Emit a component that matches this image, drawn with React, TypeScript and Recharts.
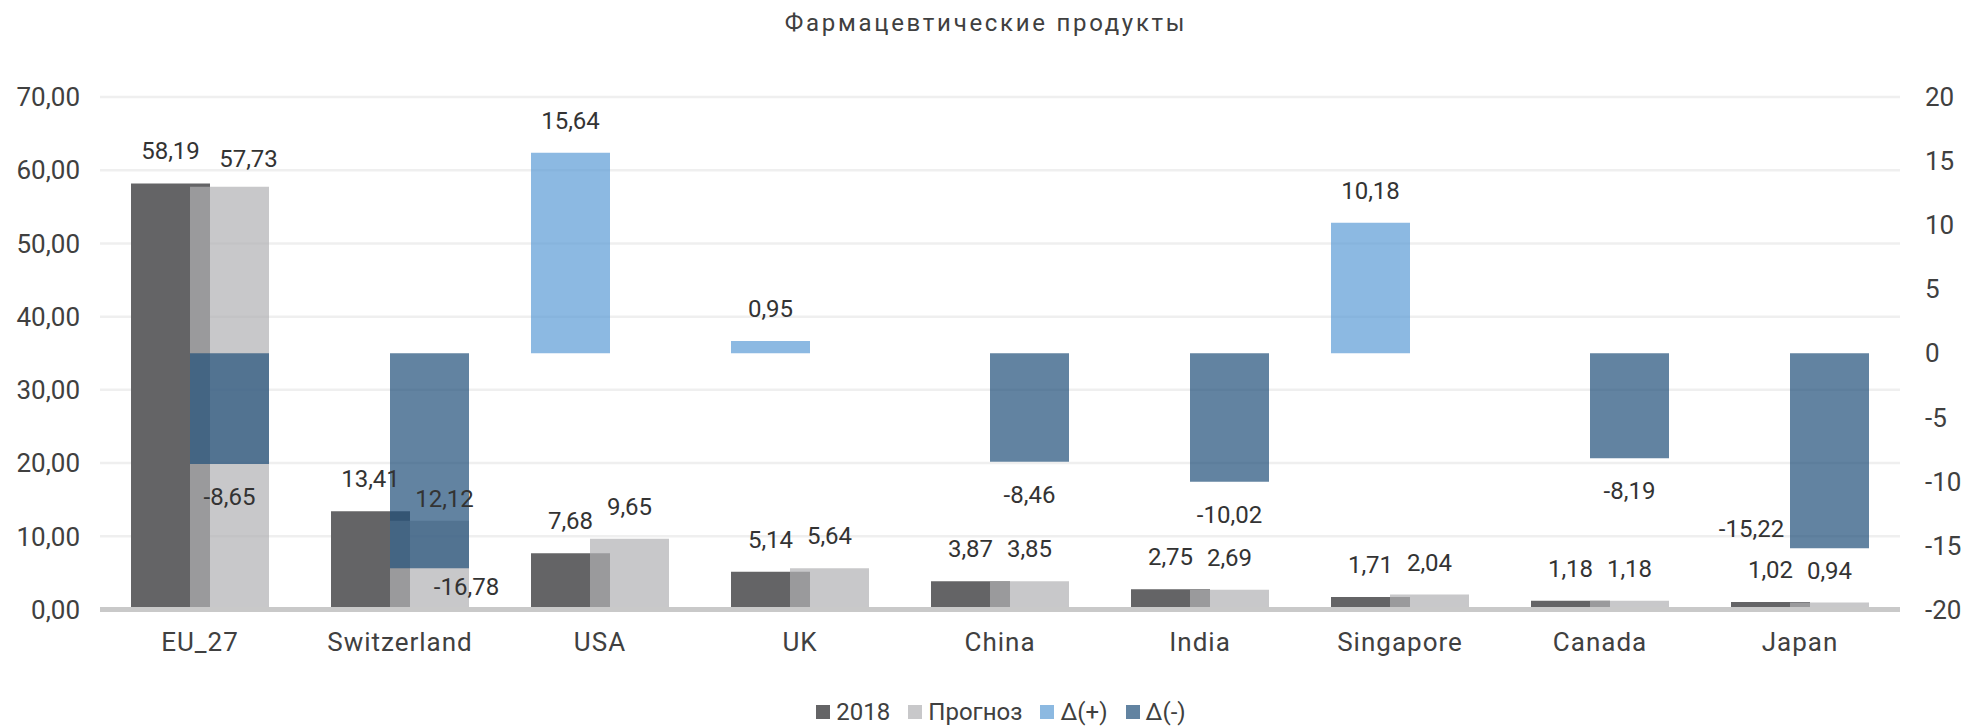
import React from "react";
import { BarChart, Bar, XAxis, YAxis, CartesianGrid, LabelList, Legend } from "recharts";

// Фармацевтические продукты: 2018 и прогноз (левая ось), изменение (правая ось)
const countries = ["EU_27", "Switzerland", "USA", "UK", "China", "India", "Singapore", "Canada", "Japan"];
const values2018 = [58.19, 13.41, 7.68, 5.14, 3.87, 2.75, 1.71, 1.18, 1.02];
const forecast = [57.73, 12.12, 9.65, 5.64, 3.85, 2.69, 2.04, 1.18, 0.94];
const deltaPlus = [null, null, 15.64, 0.95, null, null, 10.18, null, null];
const deltaMinus = [-8.65, -16.78, null, null, -8.46, -10.02, null, -8.19, -15.22];

const leftTicks = [0, 10, 20, 30, 40, 50, 60, 70];
const rightTicks = [-20, -15, -10, -5, 0, 5, 10, 15, 20];

const data = countries.map((name, i) => ({
  name,
  y2018: values2018[i],
  forecast: forecast[i],
  plus: deltaPlus[i],
  minus: deltaMinus[i],
}));

const FONT = "Roboto, 'Noto Sans', sans-serif";
const TEXT = "#404040";

// цвета в легенде = как видны поверх белого
const LEGEND_COLORS: Record<string, string> = {
  y2018: "#646466",
  forecast: "#c8c8ca",
  plus: "#8cb9e1",
  minus: "#6283a1",
};
const LEGEND_ORDER = ["y2018", "forecast", "plus", "minus"];

// ручные сдвиги подписей (как в исходнике, чтобы не налезали)
const NUDGE_FORECAST: Record<string, [number, number]> = {
  EU_27: [19, 4],
  Switzerland: [15, 10],
};
const NUDGE_MINUS: Record<string, [number, number]> = {
  Switzerland: [37, -14],
  Japan: [-78, -52],
};

const fmt2 = (v: unknown) =>
  v == null || v === "" ? "" : Number(v).toFixed(2).replace(".", ",");

const LABEL_OFFSET = 24;
const LABEL_SIZE = 24;

// LabelList пропускает пустые значения, поэтому страну ищем по значению ряда
function valueLabel(series: (number | null)[], nudge: Record<string, [number, number]>) {
  return (p: any) => {
    const { value } = p;
    if (value == null || value === "") return null;
    const vb = p.viewBox ?? p;
    const x = Number(vb.x);
    const y = Number(vb.y);
    const w = Number(vb.width);
    const h = Number(vb.height);
    const top = Math.min(y, y + h);
    const bottom = Math.max(y, y + h);
    const country = countries[series.indexOf(Number(value))];
    const [dx, dy] = nudge[country] ?? [0, 0];
    const neg = Number(value) < 0;
    const ty = neg ? bottom + LABEL_OFFSET + LABEL_SIZE * 0.71 : top - LABEL_OFFSET;
    return (
      <text
        x={x + w / 2 + dx}
        y={ty + dy}
        textAnchor="middle"
        fill="#333333"
        fontSize={LABEL_SIZE}
        fontFamily={FONT}
      >
        {fmt2(value)}
      </text>
    );
  };
}

function LegendContent(props: any) {
  const items = [...(props.payload ?? [])].sort(
    (a: any, b: any) => LEGEND_ORDER.indexOf(a.dataKey) - LEGEND_ORDER.indexOf(b.dataKey)
  );
  return (
    <div
      style={{
        display: "flex",
        justifyContent: "center",
        alignItems: "center",
        height: 30,
        paddingLeft: 38,
        fontFamily: FONT,
        fontSize: 24,
        color: TEXT,
      }}
    >
      {items.map((it: any, i: number) => (
        <span
          key={it.dataKey}
          style={{ display: "flex", alignItems: "center", marginLeft: i === 0 ? 0 : 18 }}
        >
          <span
            style={{
              width: 14,
              height: 14,
              background: LEGEND_COLORS[it.dataKey] ?? it.color,
              marginRight: 6,
            }}
          />
          {it.value}
        </span>
      ))}
    </div>
  );
}

export default function App() {
  return (
    <div
      style={{
        position: "fixed",
        left: 0,
        top: 0,
        width: 1964,
        height: 727,
        background: "#ffffff",
        fontFamily: FONT,
      }}
    >
      <div
        style={{
          position: "absolute",
          top: 9,
          left: 0,
          width: 1972,
          textAlign: "center",
          fontSize: 24,
          letterSpacing: 2.7,
          color: TEXT,
        }}
      >
        Фармацевтические продукты
      </div>
      <BarChart
        width={1964}
        height={727}
        data={data}
        margin={{ top: 97, right: 0, bottom: 0, left: 0 }}
        barGap={-20}
        barSize={79}
      >
        <CartesianGrid
          vertical={false}
          stroke="#efefef"
          strokeWidth={2.5}
          xAxisId="main"
          yAxisId="left"
        />
        <XAxis
          xAxisId="main"
          dataKey="name"
          height={87.5}
          tickLine={false}
          tickSize={0}
          tickMargin={23}
          axisLine={{ stroke: "#c9c9c9", strokeWidth: 5 }}
          tick={{ fontSize: 26, fill: TEXT, fontFamily: FONT, letterSpacing: 1 }}
          interval={0}
        />
        <XAxis xAxisId="delta" dataKey="name" hide height={0} />
        <YAxis
          yAxisId="left"
          width={100}
          domain={[0, 70]}
          ticks={leftTicks}
          tickFormatter={fmt2}
          axisLine={false}
          tickLine={false}
          tickSize={0}
          tickMargin={20}
          tick={{ fontSize: 26, fill: TEXT, fontFamily: FONT }}
        />
        <YAxis
          yAxisId="right"
          orientation="right"
          width={64}
          domain={[-20, 20]}
          ticks={rightTicks}
          axisLine={false}
          tickLine={false}
          tickSize={0}
          tickMargin={25}
          tick={{ fontSize: 26, fill: TEXT, fontFamily: FONT }}
        />
        <Legend verticalAlign="bottom" height={30} content={<LegendContent />} />
        <Bar
          xAxisId="main"
          yAxisId="left"
          dataKey="y2018"
          name="2018"
          fill="#646466"
          isAnimationActive={false}
        >
          <LabelList dataKey="y2018" content={valueLabel(values2018, {})} />
        </Bar>
        <Bar
          xAxisId="main"
          yAxisId="left"
          dataKey="forecast"
          name="Прогноз"
          fill="#b0b1b3"
          fillOpacity={0.7}
          isAnimationActive={false}
        >
          <LabelList dataKey="forecast" content={valueLabel(forecast, NUDGE_FORECAST)} />
        </Bar>
        <Bar
          xAxisId="delta"
          yAxisId="right"
          dataKey="plus"
          name="Δ(+)"
          fill="#5b9bd5"
          fillOpacity={0.7}
          isAnimationActive={false}
        >
          <LabelList dataKey="plus" content={valueLabel(deltaPlus, {})} />
        </Bar>
        <Bar
          xAxisId="delta"
          yAxisId="right"
          dataKey="minus"
          name="Δ(-)"
          fill="#1f4e79"
          fillOpacity={0.7}
          isAnimationActive={false}
        >
          <LabelList dataKey="minus" content={valueLabel(deltaMinus, NUDGE_MINUS)} />
        </Bar>
      </BarChart>
    </div>
  );
}
